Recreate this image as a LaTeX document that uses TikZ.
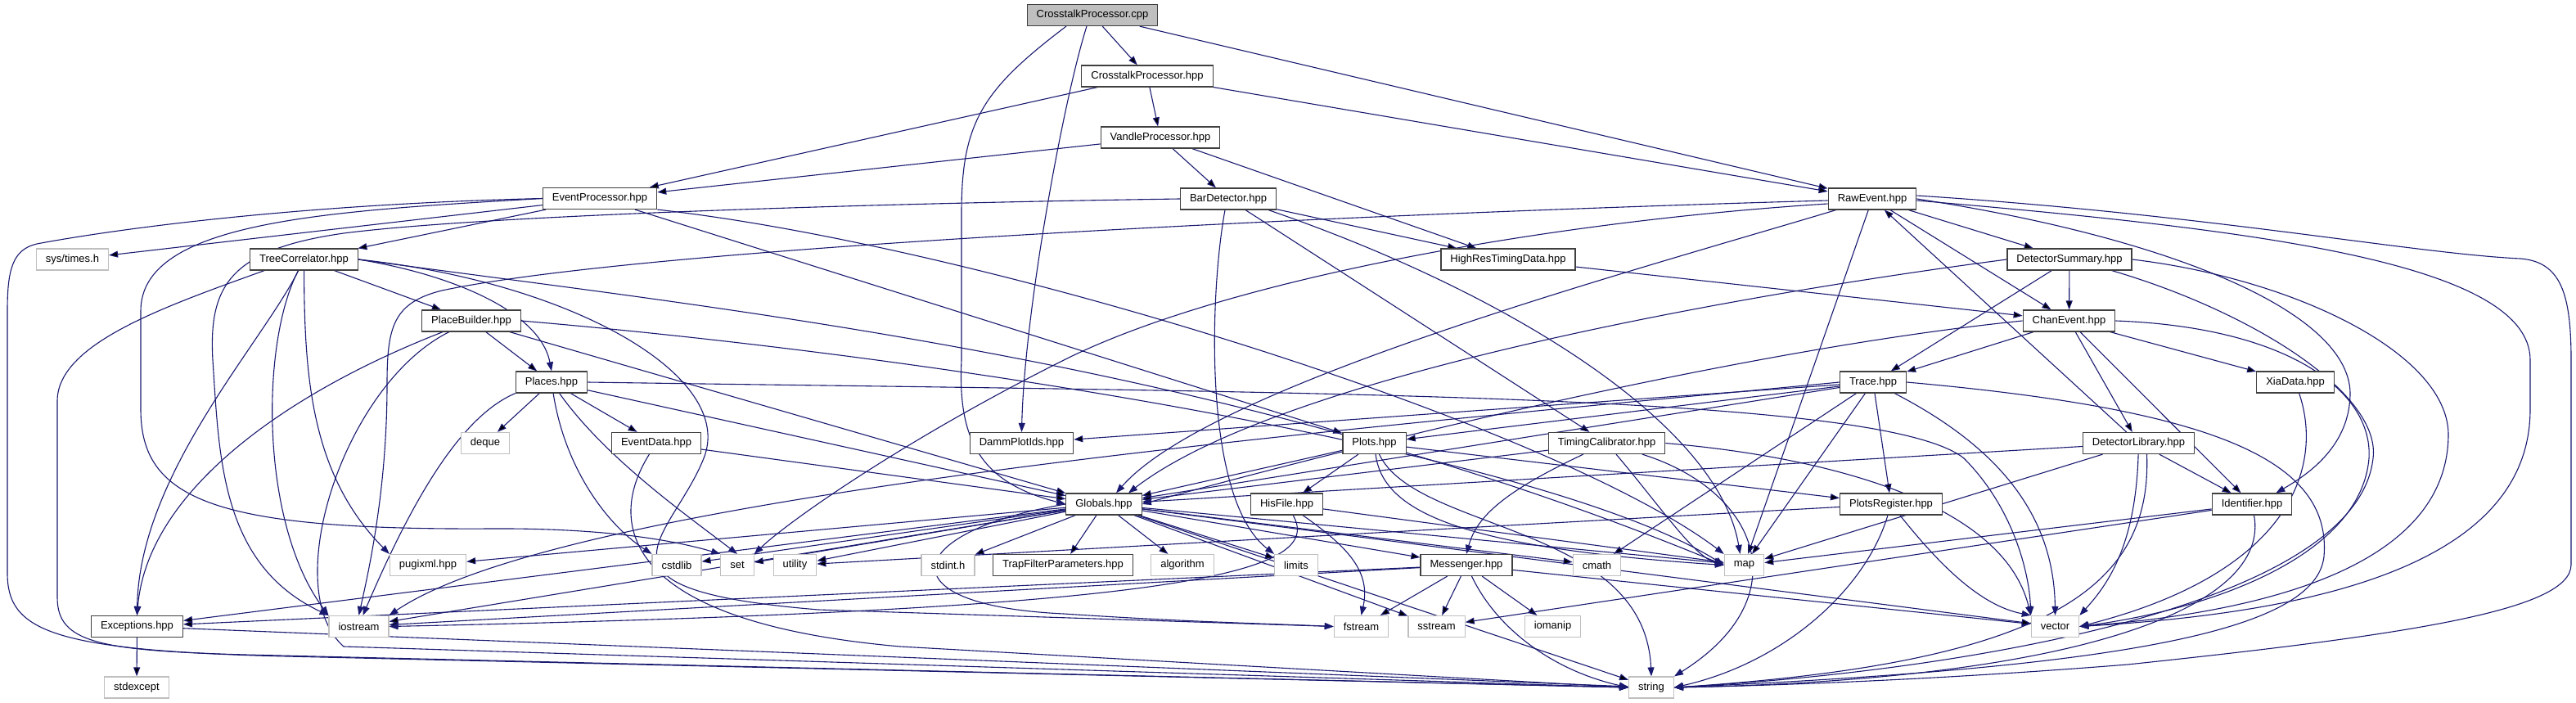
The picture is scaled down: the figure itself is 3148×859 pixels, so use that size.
\documentclass[tikz,border=0pt]{standalone}
\usepackage{fontspec}
\setmainfont{Liberation Sans}
\usetikzlibrary{arrows.meta,backgrounds}

\definecolor{depblue}{RGB}{25,25,112}
\definecolor{hdrline}{RGB}{64,64,64}
\definecolor{sysline}{RGB}{191,191,191}
\definecolor{rootgray}{RGB}{191,191,191}

\begin{document}
\begin{tikzpicture}[
  x=1pt, y=-1pt,
  >={Triangle[length=11pt,width=8pt]},
  every node/.style={font=\fontsize{13}{15}\selectfont},
  hdr/.style={draw=hdrline, line width=1.2pt, fill=white, inner xsep=11.5pt, inner ysep=0pt, minimum height=26pt},
  sys/.style={hdr, draw=sysline},
  root/.style={hdr, fill=rootgray},
  dep/.style={->, draw=depblue, line width=1.1pt}
]
\useasboundingbox (0,0) rectangle (3148,859);

% files
\node[root] (cpp) at (1335,18.5) {CrosstalkProcessor.cpp};
\node[hdr] (cph) at (1402,93) {CrosstalkProcessor.hpp};
\node[hdr] (vph) at (1418,168) {VandleProcessor.hpp};
\node[hdr] (evp) at (733,242.5) {EventProcessor.hpp};
\node[hdr] (bar) at (1501,243) {BarDetector.hpp};
\node[hdr] (raw) at (2288,243) {RawEvent.hpp};
\node[sys] (sys) at (88.5,317) {sys/times.h};
\node[hdr] (tree) at (371.5,317) {TreeCorrelator.hpp};
\node[hdr] (hrt) at (1843,317) {HighResTimingData.hpp};
\node[hdr] (dsum) at (2529,317) {DetectorSummary.hpp};
\node[hdr] (pbld) at (576,392) {PlaceBuilder.hpp};
\node[hdr] (chan) at (2528.5,392) {ChanEvent.hpp};
\node[hdr] (places) at (674,467) {Places.hpp};
\node[hdr] (trace) at (2289,467) {Trace.hpp};
\node[hdr] (xia) at (2805,467) {XiaData.hpp};
\node[sys] (deque) at (593,541.5) {deque};
\node[hdr] (evd) at (802,541.5) {EventData.hpp};
\node[hdr] (damm) at (1248.5,541.5) {DammPlotIds.hpp};
\node[hdr] (plots) at (1679.5,541.5) {Plots.hpp};
\node[hdr] (tcal) at (1963.5,541.5) {TimingCalibrator.hpp};
\node[hdr] (dlib) at (2613.5,541.5) {DetectorLibrary.hpp};
\node[hdr] (glob) at (1349,616) {Globals.hpp};
\node[hdr] (his) at (1572.5,616) {HisFile.hpp};
\node[hdr] (preg) at (2311,616) {PlotsRegister.hpp};
\node[hdr] (ident) at (2752,616) {Identifier.hpp};
\node[sys] (pugi) at (523,690.5) {pugixml.hpp};
\node[sys] (cstd) at (827,690.5) {cstdlib};
\node[sys] (set) at (901,690.5) {set};
\node[sys] (util) at (971.5,690.5) {utility};
\node[sys] (stdint) at (1158.5,690.5) {stdint.h};
\node[hdr] (trap) at (1299,690.5) {TrapFilterParameters.hpp};
\node[sys] (algo) at (1445,690.5) {algorithm};
\node[sys] (lim) at (1584,690.5) {limits};
\node[hdr] (msg) at (1792,690.5) {Messenger.hpp};
\node[sys] (cmath) at (1951.5,690.5) {cmath};
\node[sys] (map) at (2131.5,690.5) {map};
\node[hdr] (exc) at (167.5,765.5) {Exceptions.hpp};
\node[sys] (ios) at (438.5,765.5) {iostream};
\node[sys] (fstr) at (1663.5,765.5) {fstream};
\node[sys] (sstr) at (1755.5,765.5) {sstream};
\node[sys] (iomanip) at (1897.5,765.5) {iomanip};
\node[sys] (vector) at (2511.5,765.5) {vector};
\node[sys] (stdexc) at (167,840) {stdexcept};
\node[sys] (string) at (2018,840) {string};

\begin{scope}[on background layer]
% straight includes
\path[dep]
  (cpp) edge (cph)
  (cpp) edge (raw)
  (cph) edge (evp)
  (cph) edge (vph)
  (cph) edge (raw)
  (vph) edge (evp)
  (vph) edge (bar)
  (vph) edge (hrt)
  (evp) edge (sys)
  (evp) edge (tree)
  (evp) edge (plots)
  (bar) edge (hrt)
  (bar) edge (tcal)
  (raw) edge (dsum)
  (raw) edge (chan)
  (raw) edge (map)
  (hrt) edge (chan)
  (dsum) edge (chan)
  (dsum) edge (trace)
  (chan) edge (trace)
  (chan) edge (xia)
  (chan) edge (dlib)
  (chan) edge (ident)
  (tree) edge (pbld)
  (pbld) edge (places)
  (pbld) edge (glob)
  (places) edge (deque)
  (places) edge (evd)
  (places) edge (glob)
  (evd) edge (glob)
  (trace) edge (damm)
  (trace) edge (plots)
  (trace) edge (glob)
  (trace) edge (preg)
  (trace) edge (map)
  (trace) edge (cmath)
  (plots) edge (his)
  (plots) edge (glob)
  (plots) edge (preg)
  (tcal) edge (glob)
  (dlib) edge (raw)
  (dlib) edge (ident)
  (dlib) edge (map)
  (dlib) edge (glob)
  (his) edge (map)
  (msg) edge (fstr)
  (msg) edge (sstr)
  (msg) edge (iomanip)
  (msg) edge (ios)
  (msg) edge (exc)
  (msg) edge (vector)
  (preg) edge (util)
  (ident) edge (map)
  (ident) edge (sstr)
  (exc) edge (stdexc)
  (exc) edge (string);

% Globals.hpp
\path[dep]
  (glob) edge (stdint)
  (glob) edge (trap)
  (glob) edge (algo)
  (glob) edge (lim)
  (glob) edge (msg)
  (glob) edge (map)
  (glob) edge (cmath)
  (glob) edge (string)
  (glob) edge (vector)
  (glob) edge (set)
  (glob) edge (util)
  (glob) edge (cstd)
  (glob) edge (pugi)
  (glob) edge (ios)
  (glob) edge (exc)
  (glob) edge (sstr);
\draw[dep] (glob.west) .. controls (1100,650) and (1080,740) .. (1300,750) .. controls (1450,760) and (1550,762) .. (fstr.west);

% routed includes
\draw[dep] ([xshift=-32]cpp.south) .. controls (1200,110) and (1175,150) .. (1175,260) -- (1175,440) .. controls (1170,540) and (1200,590) .. (glob.west);
\draw[dep] ([xshift=-7]cpp.south) .. controls (1300,120) and (1252,380) .. (damm.north);

\draw[dep] (evp.west) .. controls (400,258) and (172,270) .. (172,380) -- (172,500) .. controls (172,610) and (260,648) .. (600,646) .. controls (760,645) and (840,665) .. (set.north west);
\draw[dep] (evp.west) .. controls (350,250) and (130,282) .. (45,298) .. controls (15,305) and (9,330) .. (9,380) -- (9,700) .. controls (9,770) and (60,795) .. (350,802) -- (string.west);
\draw[dep] (evp.south east) .. controls (1200,300) and (1900,520) .. (map.north west);

\draw[dep] (bar.west) .. controls (1100,248) and (600,262) .. (420,285) .. controls (280,305) and (255,350) .. (260,440) .. controls (268,560) and (270,690) .. (ios.north west);
\draw[dep] ([xshift=-4]bar.south) .. controls (1478,360) and (1470,610) .. (lim.north west);
\draw[dep] ([xshift=-10]bar.south east) .. controls (1850,360) and (2100,520) .. ([xshift=-5]map.north);

\draw[dep] (raw.east) .. controls (2650,290) and (2870,380) .. (2872,480) .. controls (2872,545) and (2820,580) .. ([xshift=-20]ident.north east);
\draw[dep] ([xshift=10]raw.south west) .. controls (2000,330) and (1480,470) .. ([xshift=15]glob.north);
\draw[dep] ([yshift=-2]raw.west) .. controls (1700,260) and (800,300) .. (540,355) .. controls (480,370) and (473,400) .. (473,470) .. controls (473,600) and (450,700) .. (ios.north);
\draw[dep] ([yshift=-6]raw.west) .. controls (1900,270) and (1500,340) .. (1300,440) .. controls (1100,540) and (960,640) .. (set.north east);
\draw[dep] ([yshift=4]raw.east) .. controls (2700,262) and (2950,310) .. (3080,316) .. controls (3130,320) and (3142,360) .. (3142,440) -- (3142,690) .. controls (3142,745) and (2950,775) .. (2600,812) .. controls (2350,832) and (2150,838) .. (string.east);
\draw[dep] ([yshift=-2]raw.east) .. controls (2750,280) and (3092,320) .. (3092,440) -- (3092,500) .. controls (3092,700) and (2800,750) .. (vector.east);

\draw[dep] (dsum.west) .. controls (2050,370) and (1550,470) .. ([xshift=30]glob.north);
\draw[dep] (dsum.east) .. controls (2800,340) and (2990,430) .. (2992,530) .. controls (2992,680) and (2800,745) .. (vector.east);
\draw[dep] ([xshift=-25]dsum.south east) .. controls (2750,380) and (2910,480) .. (2900,560) .. controls (2880,740) and (2400,820) .. (string.east);

\draw[dep] (chan.west) .. controls (2100,430) and (1600,560) .. (glob.east);
\draw[dep] (chan.east) .. controls (2800,400) and (2900,480) .. (2895,560) .. controls (2885,680) and (2700,745) .. (vector.east);

\draw[dep] (trace) .. controls (2430,540) and (2510,620) .. (vector.north);
\draw[dep] (trace.east) .. controls (2700,500) and (2850,560) .. (2840,680) .. controls (2830,770) and (2600,815) .. (string.east);
\draw[dep] (trace.west) .. controls (1700,520) and (700,600) .. (ios.north east);

\draw[dep] (xia) .. controls (2840,570) and (2800,700) .. (vector.east);

\draw[dep] (plots) .. controls (1690,630) and (1800,670) .. (map.west);
\draw[dep] ([xshift=6]plots.south) .. controls (1730,650) and (2010,640) .. (string.north);

\draw[dep] (his) .. controls (1650,670) and (1675,700) .. (fstr.north);
\draw[dep] (his) .. controls (1620,700) and (1450,745) .. (ios.east);

\draw[dep] (tcal) .. controls (1840,600) and (1805,630) .. (msg.north);
\draw[dep] (tcal) .. controls (2030,620) and (2070,680) .. (map.west);
\draw[dep] (tcal) .. controls (2150,600) and (2200,730) .. (string.north east);
\draw[dep] (tcal.east) .. controls (2250,560) and (2450,620) .. (vector.north west);

\draw[dep] (dlib) .. controls (2610,660) and (2580,710) .. (vector.north east);
\draw[dep] ([xshift=10]dlib.south) .. controls (2630,720) and (2500,810) .. (string.east);

\draw[dep] (msg) .. controls (1830,770) and (1900,820) .. (string.west);

\draw[dep] (preg) .. controls (2370,690) and (2420,740) .. (vector.north west);
\draw[dep] (preg) .. controls (2280,720) and (2180,810) .. (string.east);

\draw[dep] (ident) .. controls (2775,740) and (2550,830) .. (string.east);

\draw[dep] (places) .. controls (690,570) and (740,640) .. (cstd.north west);
\draw[dep] (places) .. controls (740,560) and (840,630) .. (set.north);
\draw[dep] (places.south west) .. controls (560,510) and (500,620) .. ([xshift=5]ios.north);
\draw[dep] (places.east) .. controls (1600,480) and (2300,480) .. (2400,560) .. controls (2460,620) and (2480,700) .. (vector.north west);

\draw[dep] (evd) .. controls (740,640) and (760,760) .. (1100,790) -- (string.west);

\draw[dep] (pbld) .. controls (350,480) and (180,600) .. (exc.north);
\draw[dep] (pbld.east) .. controls (1200,440) and (1900,560) .. (map.west);
\draw[dep] (pbld) .. controls (420,470) and (340,720) .. (420,790) -- (string.west);

\draw[dep] (tree.east) .. controls (550,335) and (660,380) .. (places.north);
\draw[dep] (tree) .. controls (320,420) and (170,580) .. (exc.north);
\draw[dep] (tree) .. controls (318,420) and (318,640) .. (ios.north west);
\draw[dep] (tree) .. controls (372,460) and (380,580) .. (pugi.north west);
\draw[dep] ([xshift=18]tree.south west) .. controls (200,375) and (70,420) .. (70,490) -- (70,730) .. controls (70,785) and (120,795) .. (300,800) -- (string.west);
\draw[dep] (tree.east) .. controls (700,345) and (900,460) .. (860,560) .. controls (820,660) and (700,720) .. (1000,745) -- (fstr.west);
\draw[dep] (tree.east) .. controls (900,380) and (1500,440) .. (map.west);
\end{scope}
\end{tikzpicture}
\end{document}
